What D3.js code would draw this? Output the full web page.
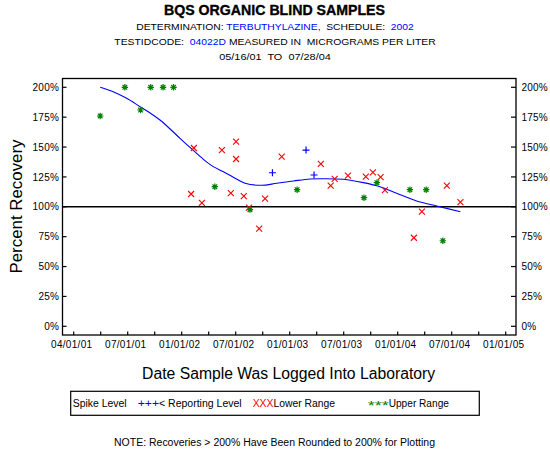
<!DOCTYPE html>
<html>
<head>
<meta charset="utf-8">
<script src="https://cdn.jsdelivr.net/npm/d3@7"></script>
<style>
html,body{margin:0;padding:0;background:#fff;}
svg{display:block;}
text{font-family:"Liberation Sans",Arial,sans-serif;white-space:pre;}
</style>
</head>
<body>
<svg id="chart" width="550" height="450"></svg>
<script>
// ---------- data ----------
const spikeDates = ["2002-11-26","2003-03-15","2003-04-10"];
const spikeValues = [128.5,147.5,126.6];

const lowerDates = ["2002-03-07","2002-03-16","2002-04-11","2002-06-15","2002-07-14","2002-07-31","2002-07-31","2002-08-25","2002-09-11","2002-10-14","2002-11-02","2002-12-26","2003-05-02","2003-06-03","2003-06-16","2003-07-29","2003-09-25","2003-10-18","2003-11-12","2003-11-26","2004-02-28","2004-03-25","2004-06-14","2004-07-28"];
const lowerValues = [110.7,149.2,103.2,147.5,111.5,154.5,140,109,99.4,81.7,106.8,141.9,136,117.7,123.3,126,125.2,128.9,124.9,114,74.1,95.9,117.7,104];

const upperDates = ["2001-05-16","2001-08-04","2001-09-24","2001-10-27","2001-12-06","2002-01-09","2002-05-23","2002-09-14","2003-02-14","2003-09-19","2003-10-31","2004-02-15","2004-04-08","2004-06-01"];
const upperValues = [176,200,181,200,200,200,116.8,97.6,114.3,107.6,120.2,114.3,114.3,71.6];

const curveDates = ["2001-05-16","2001-06-27","2001-08-10","2001-09-22","2001-10-19","2001-11-26","2001-12-29","2002-01-30","2002-03-09","2002-04-16","2002-05-18","2002-06-20","2002-07-22","2002-08-29","2002-10-22","2002-12-10","2003-02-02","2003-03-28","2003-05-10","2003-07-14","2003-09-17","2003-11-10","2004-01-03","2004-03-08","2004-05-12","2004-07-28"];
const curveValues = [200,196.3,190.8,183.8,179.6,172.6,165.1,157.3,148.4,139.7,133.6,129.4,124.7,119.7,118,119.7,121.6,123.3,123.5,123,120.2,116.8,111.3,104.9,100.7,95.9];

const xTickLabels = ["04/01/01","07/01/01","01/01/02","07/01/02","01/01/03","07/01/03","01/01/04","07/01/04","01/01/05"];
const yTickValues = [0,25,50,75,100,125,150,175,200];
const axisStart = "2001-02-19";
const axisEnd = "2004-12-22";

// ---------- layout ----------
const svg = d3.select("#chart");
const parse = d3.utcParse("%Y-%m-%d");
const frame = {left:62.5, right:516, top:78.5, bottom:335};

const x = d3.scaleUtc().domain([parse(axisStart), parse(axisEnd)]).range([73.7, 505.7]);
const y = d3.scaleLinear().domain([0,200]).range([326.3, 87.3]);

// ---------- titles ----------
svg.append("text").attr("x",274.5).attr("y",14.7).attr("text-anchor","middle")
  .attr("font-size",14.5).attr("font-weight","bold").attr("stroke","#000").attr("stroke-width",0.35)
  .attr("textLength",221).attr("lengthAdjust","spacingAndGlyphs")
  .text("BQS ORGANIC BLIND SAMPLES");

function header(yPos, parts, len){
  const t = svg.append("text").attr("x",275).attr("y",yPos).attr("text-anchor","middle")
    .attr("font-size",9.2).attr("textLength",len).attr("lengthAdjust","spacingAndGlyphs");
  parts.forEach(p => t.append("tspan").attr("fill",p[1]).text(p[0]));
}
header(29.8, [["DETERMINATION: ","#000"],["TERBUTHYLAZINE,","#0000ff"],["  SCHEDULE:  ","#000"],["2002","#0000ff"]], 277.5);
header(44.9, [["TESTIDCODE:  ","#000"],["04022D","#0000ff"],[" MEASURED IN  MICROGRAMS PER LITER","#000"]], 321.4);
header(59.6, [["05/16/01  TO  07/28/04","#000"]], 111.6);

// ---------- frame ----------
const g = svg.append("g");
g.append("rect").attr("x",frame.left).attr("y",frame.top)
  .attr("width",frame.right-frame.left).attr("height",frame.bottom-frame.top)
  .attr("fill","none").attr("stroke","#000").attr("stroke-width",1.3);

// y ticks (inward, both sides)
yTickValues.forEach(v => {
  g.append("line").attr("x1",frame.left).attr("x2",frame.left+4).attr("y1",y(v)).attr("y2",y(v)).attr("stroke","#000").attr("stroke-width",1.2);
  g.append("line").attr("x1",frame.right).attr("x2",frame.right-5).attr("y1",y(v)).attr("y2",y(v)).attr("stroke","#000").attr("stroke-width",1.2);
  g.append("text").attr("x",59).attr("y",y(v)+3.6).attr("text-anchor","end").attr("font-size",10).attr("letter-spacing",0.2).text(v+"%");
  g.append("text").attr("x",521.5).attr("y",y(v)+3.6).attr("text-anchor","start").attr("font-size",10).attr("letter-spacing",0.2).text(v+"%");
});

// x ticks: 17 evenly spaced, labels on every other one
const t0 = x.domain()[0].getTime(), t1 = x.domain()[1].getTime();
const xTicks = d3.range(17).map(i => new Date(t0 + i*(t1-t0)/16));
xTicks.forEach((d,i) => {
  g.append("line").attr("x1",x(d)).attr("x2",x(d)).attr("y1",frame.bottom).attr("y2",frame.bottom-3.5).attr("stroke","#000").attr("stroke-width",1.2);
  if(i%2===0){
    g.append("text").attr("x",x(d)-2).attr("y",348.3).attr("text-anchor","middle").attr("font-size",10).attr("letter-spacing",0.3)
      .text(xTickLabels[i/2]);
  }
});

// axis titles
svg.append("text").attr("transform","translate(21.5,206.5) rotate(-90)").attr("text-anchor","middle")
  .attr("font-size",16.5).attr("textLength",134).attr("lengthAdjust","spacingAndGlyphs").text("Percent Recovery");
svg.append("text").attr("x",288.6).attr("y",379).attr("text-anchor","middle")
  .attr("font-size",16).attr("textLength",293).attr("lengthAdjust","spacingAndGlyphs").text("Date Sample Was Logged Into Laboratory");

// 100% reference line
g.append("line").attr("x1",frame.left).attr("x2",frame.right).attr("y1",y(100)).attr("y2",y(100)).attr("stroke","#000").attr("stroke-width",1.4);

// smoothed curve
const curveData = curveDates.map((d,i)=>({d:parse(d), v:curveValues[i]}));
g.append("path").datum(curveData)
  .attr("d", d3.line().x(p=>x(p.d)).y(p=>y(p.v)).curve(d3.curveCatmullRom))
  .attr("fill","none").attr("stroke","#0000ff").attr("stroke-width",1.1);

// markers
const pts = (dates, vals) => dates.map((d,i)=>({d:parse(d), v:vals[i]}));
g.selectAll(".lower").data(pts(lowerDates,lowerValues)).join("path")
  .attr("transform",p=>`translate(${x(p.d)},${y(p.v)})`)
  .attr("d","M-3,-3L3,3M-3,3L3,-3").attr("stroke","#ff0000").attr("stroke-width",1.1).attr("fill","none");
g.selectAll(".upper").data(pts(upperDates,upperValues)).join("path")
  .attr("transform",p=>`translate(${x(p.d)},${y(p.v)})`)
  .attr("d","M-3.2,0H3.2M0,-3.2V3.2M-2.3,-2.3L2.3,2.3M-2.3,2.3L2.3,-2.3").attr("stroke","#008000").attr("stroke-width",1.2).attr("fill","none");
g.selectAll(".spike").data(pts(spikeDates,spikeValues)).join("path")
  .attr("transform",p=>`translate(${x(p.d)},${y(p.v)})`)
  .attr("d","M-3.5,0H3.5M0,-3.5V3.5").attr("stroke","#0000ff").attr("stroke-width",1.2).attr("fill","none");

// ---------- legend ----------
svg.append("rect").attr("x",70.7).attr("y",391.3).attr("width",408.6).attr("height",24)
  .attr("fill","none").attr("stroke","#000").attr("stroke-width",1.2);
const legItems = [
  {x:72.7, sym:"", symLen:0, col:"#000", label:"Spike Level", len:54},
  {x:137.7, sym:"+++", symLen:21.3, col:"#0000ff", label:"< Reporting Level", len:82.7},
  {x:252.7, sym:"XXX", symLen:20.8, col:"#ff0000", label:"Lower Range", len:61.5},
  {x:367.7, sym:"***", symLen:21, col:"#008000", label:"Upper Range", len:60.2}
];
legItems.forEach(it => {
  let lx = it.x;
  if(it.sym){
    svg.append("text").attr("x",lx).attr("y",it.sym==="***"?409.5:406.7).attr("font-size",it.sym==="***"?13:10).attr("fill",it.col)
      .attr("textLength",it.symLen).attr("lengthAdjust","spacingAndGlyphs").text(it.sym);
    lx += it.symLen;
  }
  svg.append("text").attr("x",lx).attr("y",406.7).attr("font-size",10).attr("textLength",it.len).attr("lengthAdjust","spacingAndGlyphs").text(it.label);
});

// note
svg.append("text").attr("x",114).attr("y",446).attr("font-size",10).attr("textLength",321).attr("lengthAdjust","spacingAndGlyphs")
  .text("NOTE: Recoveries > 200% Have Been Rounded to 200% for Plotting");
</script>
</body>
</html>
